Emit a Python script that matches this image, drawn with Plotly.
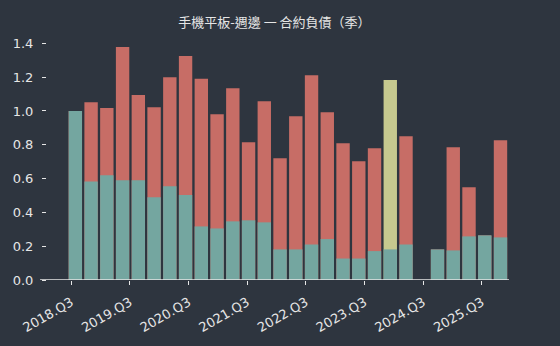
import plotly.graph_objects as go

# slot positions (one slot per quarter bar, slot 22 empty)
slots = list(range(28))
total_vals = [1.00, 1.052, 1.017, 1.378, 1.094, 1.022, 1.200, 1.325, 1.190,
              0.981, 1.135, 0.815, 1.058, 0.720, 0.969, 1.212, 0.993, 0.809,
              0.702, 0.779, None, 0.851, None, 0.181, 0.785, 0.548, 0.264, 0.827]
highlight_vals = [None] * 20 + [1.183] + [None] * 7
teal_vals = [1.00, 0.582, 0.619, 0.590, 0.590, 0.489, 0.554, 0.503, 0.317,
             0.305, 0.347, 0.353, 0.341, 0.181, 0.181, 0.210, 0.242, 0.127,
             0.127, 0.171, 0.181, 0.210, None, 0.181, 0.175, 0.258, 0.264, 0.252]
tick_pos = [-0.26, 3.47, 7.19, 10.92, 14.64, 18.37, 22.09, 25.82]
tick_labels = ["2018.Q3", "2019.Q3", "2020.Q3", "2021.Q3",
               "2022.Q3", "2023.Q3", "2024.Q3", "2025.Q3"]
y_ticks = [0.0, 0.2, 0.4, 0.6, 0.8, 1.0, 1.2, 1.4]

BG = "#2e353f"
TXT = "#e6e6e6"

fig = go.Figure()
fig.add_trace(go.Bar(x=slots, y=total_vals, marker_color="#c76d66", width=0.85,
                     marker_line_width=0))
fig.add_trace(go.Bar(x=slots, y=highlight_vals, marker_color="#c6c98f", width=0.85,
                     marker_line_width=0))
fig.add_trace(go.Bar(x=slots, y=teal_vals, marker_color="#74a6a0", width=0.85,
                     marker_line_width=0))

fig.update_layout(
    width=560, height=346,
    barmode="overlay",
    showlegend=False,
    paper_bgcolor=BG, plot_bgcolor=BG,
    margin=dict(l=47, r=51, t=30, b=66),
    font=dict(family="Noto Sans CJK TC, DejaVu Sans", color=TXT),
    title=dict(text="手機平板-週邊 一 合約負債（季）", x=0.49, xanchor="center",
               y=0.935, yanchor="middle", font=dict(size=13, color=TXT)),
    xaxis=dict(range=[-1.8, 27.54], tickmode="array", tickvals=tick_pos,
               ticktext=tick_labels, tickangle=-30, ticks="outside", ticklen=4,
               tickcolor=TXT, showgrid=False, zeroline=False, showline=False,
               ticklabelstandoff=5,
               tickfont=dict(size=13, family="DejaVu Sans", color=TXT)),
    yaxis=dict(range=[0, 1.479], tickmode="array", tickvals=y_ticks,
               ticktext=[f"{v:.1f}" for v in y_ticks], ticks="outside", ticklen=4,
               tickcolor=TXT, showgrid=False, zeroline=False, showline=False,
               ticklabelstandoff=6,
               tickfont=dict(size=13, family="DejaVu Sans", color=TXT)),
)
fig.add_shape(type="line", xref="paper", yref="y", x0=-0.015, x1=1.0, y0=0, y1=0,
              line=dict(color=TXT, width=1.5))

fig.write_html("out.html")
